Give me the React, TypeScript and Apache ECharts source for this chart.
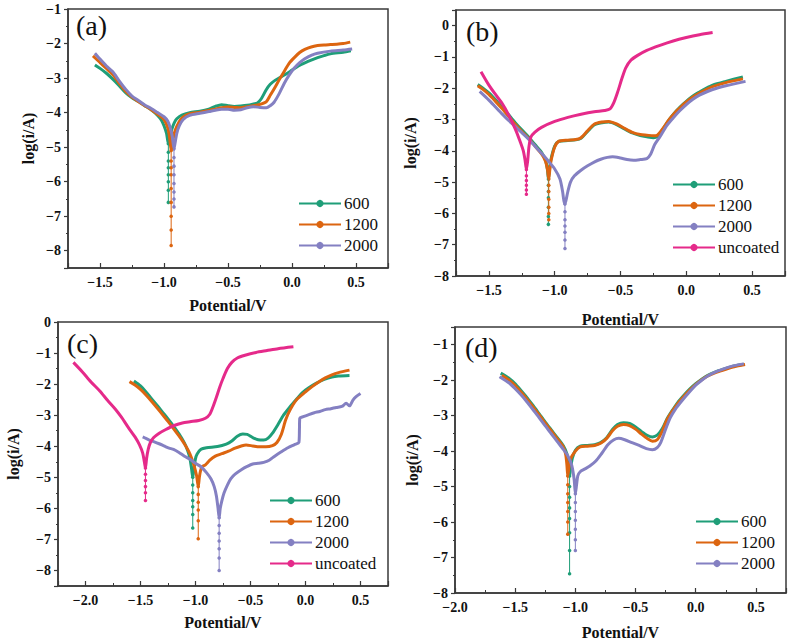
import { useEffect, useRef } from "react";
import * as echarts from "echarts";

type Pt = [number, number];

// ---------- (a) ----------
const a600: Pt[] = [
  [-1.54, -2.62], [-1.5, -2.72], [-1.45, -2.86], [-1.4, -3.03], [-1.35, -3.22], [-1.3, -3.42],
  [-1.25, -3.57], [-1.2, -3.68], [-1.15, -3.8], [-1.1, -3.92], [-1.05, -4.08], [-1.02, -4.22],
  [-1.0, -4.38], [-0.98, -4.6], [-0.966, -4.9], [-0.955, -4.75], [-0.94, -4.5], [-0.92, -4.3],
  [-0.9, -4.18], [-0.86, -4.07], [-0.8, -4.0], [-0.72, -3.96], [-0.65, -3.9], [-0.6, -3.82],
  [-0.55, -3.77], [-0.5, -3.8], [-0.45, -3.82], [-0.4, -3.81], [-0.35, -3.79], [-0.3, -3.75],
  [-0.27, -3.72], [-0.24, -3.6], [-0.2, -3.33], [-0.17, -3.18], [-0.13, -3.06], [-0.08, -2.95],
  [-0.04, -2.87], [0.0, -2.77], [0.05, -2.65], [0.1, -2.56], [0.15, -2.48], [0.2, -2.41],
  [0.25, -2.35], [0.3, -2.3], [0.4, -2.25], [0.46, -2.21],
];
const a600Dip: Pt[] = [
  [-0.966, -4.9], [-0.966, -5.15], [-0.966, -5.4], [-0.966, -5.6], [-0.966, -5.8],
  [-0.966, -6.0], [-0.966, -6.25], [-0.966, -6.6],
];
const a1200: Pt[] = [
  [-1.555, -2.36], [-1.5, -2.55], [-1.45, -2.72], [-1.4, -2.9], [-1.35, -3.15], [-1.3, -3.38],
  [-1.25, -3.55], [-1.2, -3.68], [-1.15, -3.8], [-1.1, -3.92], [-1.05, -4.05], [-1.0, -4.2],
  [-0.97, -4.45], [-0.955, -4.75], [-0.944, -5.1], [-0.935, -4.9], [-0.92, -4.6], [-0.9, -4.4],
  [-0.87, -4.2], [-0.83, -4.08], [-0.78, -4.02], [-0.72, -3.99], [-0.65, -3.94], [-0.6, -3.9],
  [-0.55, -3.86], [-0.5, -3.84], [-0.45, -3.85], [-0.4, -3.86], [-0.35, -3.83], [-0.3, -3.8],
  [-0.25, -3.76], [-0.2, -3.68], [-0.17, -3.5], [-0.13, -3.25], [-0.1, -3.05], [-0.06, -2.8],
  [-0.02, -2.56], [0.02, -2.4], [0.06, -2.26], [0.1, -2.17], [0.15, -2.1], [0.2, -2.06],
  [0.25, -2.04], [0.3, -2.03], [0.35, -2.02], [0.4, -2.0], [0.455, -1.96],
];
const a1200Dip: Pt[] = [
  [-0.944, -5.1], [-0.944, -5.4], [-0.944, -5.6], [-0.944, -5.8], [-0.944, -6.2],
  [-0.944, -6.6], [-0.944, -7.0], [-0.944, -7.4], [-0.944, -7.85],
];
const a2000: Pt[] = [
  [-1.54, -2.28], [-1.5, -2.45], [-1.45, -2.65], [-1.4, -2.82], [-1.35, -3.08], [-1.3, -3.32],
  [-1.25, -3.52], [-1.2, -3.65], [-1.15, -3.78], [-1.1, -3.88], [-1.05, -4.0], [-1.0, -4.12],
  [-0.97, -4.25], [-0.95, -4.45], [-0.935, -4.7], [-0.922, -5.05], [-0.912, -4.85], [-0.9, -4.6],
  [-0.88, -4.38], [-0.85, -4.2], [-0.8, -4.08], [-0.72, -4.02], [-0.65, -3.97], [-0.6, -3.93],
  [-0.55, -3.9], [-0.5, -3.9], [-0.45, -3.93], [-0.4, -3.92], [-0.35, -3.86], [-0.3, -3.83],
  [-0.25, -3.85], [-0.2, -3.86], [-0.17, -3.8], [-0.14, -3.7], [-0.1, -3.45], [-0.06, -3.15],
  [-0.02, -2.9], [0.02, -2.7], [0.06, -2.55], [0.1, -2.44], [0.15, -2.34], [0.2, -2.28],
  [0.3, -2.22], [0.4, -2.19], [0.47, -2.16],
];
const a2000Dip: Pt[] = [
  [-0.922, -5.05], [-0.922, -5.3], [-0.922, -5.55], [-0.922, -5.8], [-0.922, -6.05],
  [-0.922, -6.3], [-0.922, -6.5], [-0.922, -6.73],
];

// ---------- (b) ----------
const b600: Pt[] = [
  [-1.585, -1.88], [-1.55, -1.98], [-1.5, -2.15], [-1.45, -2.37], [-1.4, -2.6], [-1.35, -2.85],
  [-1.3, -3.1], [-1.25, -3.33], [-1.2, -3.55], [-1.15, -3.8], [-1.1, -4.05], [-1.07, -4.3],
  [-1.055, -4.6], [-1.048, -4.9], [-1.04, -4.6], [-1.03, -4.3], [-1.0, -3.85], [-0.97, -3.7],
  [-0.9, -3.67], [-0.84, -3.65], [-0.8, -3.6], [-0.75, -3.38], [-0.7, -3.17], [-0.64, -3.1],
  [-0.59, -3.08], [-0.53, -3.16], [-0.47, -3.3], [-0.41, -3.43], [-0.35, -3.51], [-0.3, -3.55],
  [-0.25, -3.58], [-0.22, -3.55], [-0.18, -3.32], [-0.13, -3.0], [-0.08, -2.74], [-0.03, -2.53],
  [0.0, -2.42], [0.05, -2.25], [0.1, -2.12], [0.15, -2.0], [0.2, -1.9], [0.3, -1.78],
  [0.43, -1.64],
];
const b600Dip: Pt[] = [
  [-1.048, -4.9], [-1.048, -5.1], [-1.048, -5.3], [-1.048, -5.5], [-1.048, -5.8],
  [-1.048, -6.1], [-1.048, -6.35],
];
const b1200: Pt[] = [
  [-1.585, -1.92], [-1.55, -2.02], [-1.5, -2.2], [-1.45, -2.42], [-1.4, -2.65], [-1.35, -2.9],
  [-1.3, -3.15], [-1.25, -3.38], [-1.2, -3.6], [-1.15, -3.85], [-1.1, -4.1], [-1.07, -4.33],
  [-1.055, -4.6], [-1.045, -4.9], [-1.037, -4.6], [-1.027, -4.3], [-1.0, -3.88], [-0.97, -3.7],
  [-0.9, -3.66], [-0.84, -3.64], [-0.8, -3.58], [-0.75, -3.36], [-0.7, -3.15], [-0.64, -3.08],
  [-0.59, -3.06], [-0.53, -3.14], [-0.47, -3.28], [-0.41, -3.41], [-0.35, -3.48], [-0.3, -3.5],
  [-0.25, -3.52], [-0.22, -3.5], [-0.18, -3.3], [-0.13, -3.0], [-0.08, -2.75], [-0.03, -2.55],
  [0.0, -2.44], [0.05, -2.28], [0.1, -2.15], [0.15, -2.04], [0.2, -1.95], [0.3, -1.82],
  [0.43, -1.7],
];
const b1200Dip: Pt[] = [
  [-1.045, -4.9], [-1.045, -5.1], [-1.045, -5.3], [-1.045, -5.55], [-1.045, -5.8],
  [-1.045, -6.0], [-1.045, -6.2],
];
const b2000: Pt[] = [
  [-1.57, -2.1], [-1.5, -2.38], [-1.45, -2.6], [-1.4, -2.82], [-1.35, -3.03], [-1.3, -3.22],
  [-1.25, -3.42], [-1.2, -3.62], [-1.15, -3.85], [-1.1, -4.08], [-1.05, -4.32], [-1.0, -4.58],
  [-0.96, -4.9], [-0.94, -5.3], [-0.925, -5.7], [-0.915, -5.6], [-0.9, -5.3], [-0.88, -5.0],
  [-0.85, -4.8], [-0.8, -4.62], [-0.75, -4.48], [-0.7, -4.36], [-0.65, -4.27], [-0.6, -4.21],
  [-0.56, -4.19], [-0.5, -4.23], [-0.45, -4.28], [-0.4, -4.3], [-0.35, -4.28], [-0.3, -4.25],
  [-0.27, -4.1], [-0.24, -3.8], [-0.2, -3.55], [-0.15, -3.2], [-0.1, -2.95], [-0.05, -2.72],
  [0.0, -2.52], [0.05, -2.35], [0.1, -2.22], [0.2, -2.04], [0.3, -1.92], [0.45, -1.78],
];
const b2000Dip: Pt[] = [
  [-0.922, -5.7], [-0.922, -5.95], [-0.922, -6.2], [-0.922, -6.4], [-0.922, -6.6],
  [-0.922, -6.85], [-0.922, -7.12],
];
const bBare: Pt[] = [
  [-1.56, -1.47], [-1.5, -1.9], [-1.45, -2.2], [-1.4, -2.48], [-1.35, -2.85], [-1.3, -3.3],
  [-1.27, -3.62], [-1.24, -3.98], [-1.225, -4.3], [-1.215, -4.6], [-1.205, -4.3], [-1.195, -3.85],
  [-1.18, -3.55], [-1.15, -3.4], [-1.1, -3.25], [-1.0, -3.06], [-0.9, -2.93], [-0.8, -2.83],
  [-0.7, -2.75], [-0.62, -2.71], [-0.58, -2.66], [-0.55, -2.45], [-0.52, -2.1], [-0.49, -1.7],
  [-0.46, -1.35], [-0.42, -1.1], [-0.37, -0.95], [-0.3, -0.79], [-0.2, -0.63], [-0.1, -0.49],
  [0.0, -0.38], [0.1, -0.29], [0.2, -0.22],
];
const bBareDip: Pt[] = [
  [-1.215, -4.6], [-1.215, -4.8], [-1.215, -4.95], [-1.215, -5.1], [-1.215, -5.25],
  [-1.215, -5.39],
];

// ---------- (c) ----------
const c600: Pt[] = [
  [-1.56, -1.9], [-1.5, -2.06], [-1.45, -2.25], [-1.4, -2.47], [-1.35, -2.68], [-1.3, -2.9],
  [-1.25, -3.12], [-1.2, -3.35], [-1.15, -3.6], [-1.1, -3.9], [-1.07, -4.15], [-1.05, -4.4],
  [-1.035, -4.75], [-1.025, -5.0], [-1.015, -4.75], [-1.0, -4.4], [-0.985, -4.25], [-0.95, -4.1],
  [-0.9, -4.05], [-0.8, -4.01], [-0.72, -3.93], [-0.67, -3.83], [-0.62, -3.68], [-0.57, -3.61],
  [-0.53, -3.62], [-0.48, -3.72], [-0.43, -3.79], [-0.38, -3.8], [-0.34, -3.74], [-0.3, -3.58],
  [-0.25, -3.3], [-0.2, -3.0], [-0.14, -2.73], [-0.08, -2.48], [-0.03, -2.28], [0.03, -2.12],
  [0.1, -1.97], [0.17, -1.85], [0.24, -1.77], [0.3, -1.74], [0.4, -1.72],
];
const c600Dip: Pt[] = [
  [-1.025, -5.0], [-1.025, -5.25], [-1.025, -5.5], [-1.025, -5.75], [-1.025, -5.95],
  [-1.025, -6.2], [-1.025, -6.63],
];
const c1200: Pt[] = [
  [-1.6, -1.92], [-1.55, -2.03], [-1.5, -2.17], [-1.45, -2.35], [-1.4, -2.55], [-1.35, -2.76],
  [-1.3, -2.98], [-1.25, -3.2], [-1.2, -3.43], [-1.15, -3.67], [-1.1, -3.93], [-1.05, -4.25],
  [-1.015, -4.6], [-0.99, -4.95], [-0.975, -5.3], [-0.965, -5.0], [-0.955, -4.8], [-0.94, -4.66],
  [-0.91, -4.6], [-0.87, -4.45], [-0.82, -4.32], [-0.76, -4.24], [-0.7, -4.16], [-0.64, -4.06],
  [-0.59, -4.0], [-0.54, -3.96], [-0.48, -3.99], [-0.42, -4.02], [-0.36, -4.02], [-0.3, -3.98],
  [-0.26, -3.88], [-0.22, -3.62], [-0.18, -3.15], [-0.14, -2.83], [-0.08, -2.5], [0.0, -2.25],
  [0.06, -2.08], [0.12, -1.93], [0.18, -1.8], [0.24, -1.7], [0.3, -1.63], [0.4, -1.55],
];
const c1200Dip: Pt[] = [
  [-0.975, -5.3], [-0.975, -5.55], [-0.975, -5.8], [-0.975, -6.05], [-0.975, -6.4],
  [-0.975, -6.98],
];
const c2000: Pt[] = [
  [-1.48, -3.7], [-1.45, -3.75], [-1.42, -3.8], [-1.38, -3.85], [-1.33, -3.92], [-1.28, -4.0],
  [-1.24, -4.06], [-1.2, -4.1], [-1.15, -4.2], [-1.1, -4.32], [-1.05, -4.42], [-1.0, -4.55],
  [-0.95, -4.66], [-0.9, -4.85], [-0.86, -5.05], [-0.83, -5.3], [-0.81, -5.6], [-0.795, -6.0],
  [-0.785, -6.3], [-0.775, -6.0], [-0.76, -5.75], [-0.74, -5.5], [-0.71, -5.25], [-0.68, -5.05],
  [-0.64, -4.9], [-0.58, -4.75], [-0.53, -4.65], [-0.48, -4.57], [-0.43, -4.55], [-0.38, -4.52],
  [-0.33, -4.45], [-0.28, -4.32], [-0.22, -4.18], [-0.16, -4.05], [-0.1, -3.95], [-0.06, -3.88],
  [-0.055, -3.45], [-0.052, -3.1], [-0.02, -3.05], [0.03, -2.98], [0.08, -2.92], [0.13, -2.88],
  [0.18, -2.82], [0.23, -2.79], [0.28, -2.75], [0.33, -2.72], [0.37, -2.62], [0.4, -2.7],
  [0.43, -2.52], [0.46, -2.4], [0.5, -2.3],
];
const c2000Dip: Pt[] = [
  [-0.785, -6.3], [-0.785, -6.55], [-0.785, -6.8], [-0.785, -7.05], [-0.785, -7.3],
  [-0.785, -7.6], [-0.785, -8.0],
];
const cBare: Pt[] = [
  [-2.11, -1.3], [-2.03, -1.6], [-1.95, -1.93], [-1.87, -2.22], [-1.8, -2.52], [-1.73, -2.8],
  [-1.67, -3.08], [-1.61, -3.4], [-1.55, -3.7], [-1.51, -3.95], [-1.48, -4.22], [-1.465, -4.5],
  [-1.455, -4.7], [-1.445, -4.4], [-1.43, -4.1], [-1.41, -3.88], [-1.38, -3.72], [-1.33, -3.58],
  [-1.27, -3.46], [-1.2, -3.34], [-1.12, -3.25], [-1.05, -3.21], [-0.97, -3.17], [-0.91, -3.1],
  [-0.87, -2.97], [-0.84, -2.72], [-0.81, -2.42], [-0.78, -2.1], [-0.75, -1.82], [-0.71, -1.5],
  [-0.67, -1.3], [-0.62, -1.16], [-0.55, -1.07], [-0.45, -0.98], [-0.35, -0.92], [-0.25, -0.86],
  [-0.11, -0.8],
];
const cBareDip: Pt[] = [
  [-1.455, -4.7], [-1.455, -4.9], [-1.455, -5.1], [-1.455, -5.3], [-1.455, -5.5],
  [-1.455, -5.75],
];

// ---------- (d) ----------
const d600: Pt[] = [
  [-1.62, -1.8], [-1.55, -1.95], [-1.5, -2.1], [-1.45, -2.3], [-1.4, -2.5], [-1.35, -2.72],
  [-1.3, -2.95], [-1.25, -3.18], [-1.2, -3.4], [-1.15, -3.62], [-1.1, -3.85], [-1.07, -4.08],
  [-1.055, -4.4], [-1.048, -4.7], [-1.04, -4.5], [-1.025, -4.2], [-1.0, -3.98], [-0.96, -3.86],
  [-0.9, -3.84], [-0.84, -3.82], [-0.79, -3.76], [-0.74, -3.62], [-0.69, -3.38], [-0.65, -3.25],
  [-0.6, -3.2], [-0.55, -3.22], [-0.5, -3.32], [-0.45, -3.45], [-0.4, -3.56], [-0.36, -3.6],
  [-0.32, -3.55], [-0.28, -3.38], [-0.24, -3.1], [-0.2, -2.88], [-0.15, -2.63], [-0.1, -2.43],
  [-0.05, -2.25], [0.0, -2.1], [0.05, -1.97], [0.1, -1.86], [0.17, -1.76], [0.25, -1.67],
  [0.32, -1.6], [0.4, -1.55],
];
const d600Dip: Pt[] = [
  [-1.048, -4.7], [-1.048, -5.0], [-1.048, -5.3], [-1.048, -5.6], [-1.048, -5.9],
  [-1.048, -6.3], [-1.048, -6.8], [-1.048, -7.46],
];
const d1200: Pt[] = [
  [-1.61, -1.86], [-1.55, -2.0], [-1.5, -2.15], [-1.45, -2.34], [-1.4, -2.54], [-1.35, -2.76],
  [-1.3, -2.98], [-1.25, -3.21], [-1.2, -3.43], [-1.15, -3.65], [-1.1, -3.88], [-1.08, -4.1],
  [-1.07, -4.4], [-1.063, -4.7], [-1.055, -4.5], [-1.04, -4.22], [-1.0, -4.0], [-0.96, -3.88],
  [-0.9, -3.86], [-0.84, -3.84], [-0.79, -3.78], [-0.74, -3.64], [-0.69, -3.42], [-0.65, -3.3],
  [-0.6, -3.25], [-0.55, -3.28], [-0.5, -3.38], [-0.45, -3.52], [-0.4, -3.65], [-0.36, -3.72],
  [-0.32, -3.68], [-0.28, -3.45], [-0.24, -3.12], [-0.2, -2.9], [-0.15, -2.66], [-0.1, -2.46],
  [-0.05, -2.28], [0.0, -2.12], [0.05, -1.99], [0.1, -1.88], [0.17, -1.78], [0.25, -1.69],
  [0.32, -1.62], [0.41, -1.56],
];
const d1200Dip: Pt[] = [
  [-1.063, -4.7], [-1.063, -4.95], [-1.063, -5.2], [-1.063, -5.45], [-1.063, -5.7],
  [-1.063, -6.0], [-1.063, -6.34],
];
const d2000: Pt[] = [
  [-1.63, -1.9], [-1.55, -2.08], [-1.5, -2.24], [-1.45, -2.42], [-1.4, -2.62], [-1.35, -2.84],
  [-1.3, -3.06], [-1.25, -3.29], [-1.2, -3.51], [-1.15, -3.73], [-1.1, -3.95], [-1.06, -4.15],
  [-1.03, -4.4], [-1.01, -4.8], [-1.0, -5.2], [-0.99, -4.95], [-0.98, -4.7], [-0.96, -4.58],
  [-0.92, -4.5], [-0.88, -4.42], [-0.83, -4.28], [-0.78, -4.06], [-0.73, -3.82], [-0.68, -3.68],
  [-0.64, -3.64], [-0.59, -3.68], [-0.53, -3.76], [-0.47, -3.84], [-0.41, -3.93], [-0.36, -3.96],
  [-0.32, -3.9], [-0.29, -3.75], [-0.25, -3.38], [-0.21, -3.05], [-0.17, -2.82], [-0.12, -2.6],
  [-0.06, -2.36], [0.0, -2.14], [0.05, -2.0], [0.1, -1.88], [0.17, -1.76], [0.25, -1.66],
  [0.32, -1.59], [0.4, -1.54],
];
const d2000Dip: Pt[] = [
  [-1.0, -5.2], [-1.0, -5.45], [-1.0, -5.7], [-1.0, -5.95], [-1.0, -6.2],
  [-1.0, -6.5], [-1.0, -6.8],
];

const COLORS: Record<string, string> = {
  "600": "#1f9e78",
  "1200": "#dc6510",
  "2000": "#8480c2",
  uncoated: "#e52a8a",
};

const SERIF = "Liberation Serif";

type Panel = {
  tag: string;
  grid: { left: number; top: number; width: number; height: number };
  x: [number, number];
  y: [number, number];
  xSplit: number;
  ySplit: number;
  yNameGap: number;
  xNameGap: number;
  tagPos: [number, number];
  legendPos: [number, number];
  curves: { name: string; main: Pt[]; dip: Pt[] }[];
};

const panels: Panel[] = [
  {
    tag: "(a)",
    grid: { left: 68, top: 9, width: 320, height: 259 },
    x: [-1.75, 0.75],
    y: [-8.5, -1],
    xSplit: 5,
    ySplit: 8,
    yNameGap: 32,
    xNameGap: 29,
    tagPos: [76, 27],
    legendPos: [298, 195],
    curves: [
      { name: "600", main: a600, dip: a600Dip },
      { name: "1200", main: a1200, dip: a1200Dip },
      { name: "2000", main: a2000, dip: a2000Dip },
    ],
  },
  {
    tag: "(b)",
    grid: { left: 456, top: 10, width: 329, height: 266 },
    x: [-1.75, 0.75],
    y: [-8, 0.5],
    xSplit: 5,
    ySplit: 8,
    yNameGap: 38,
    xNameGap: 35,
    tagPos: [466, 33],
    legendPos: [672, 176],
    curves: [
      { name: "600", main: b600, dip: b600Dip },
      { name: "1200", main: b1200, dip: b1200Dip },
      { name: "2000", main: b2000, dip: b2000Dip },
      { name: "uncoated", main: bBare, dip: bBareDip },
    ],
  },
  {
    tag: "(c)",
    grid: { left: 58, top: 322, width: 330, height: 264 },
    x: [-2.25, 0.75],
    y: [-8.5, 0],
    xSplit: 6,
    ySplit: 8,
    yNameGap: 37,
    xNameGap: 28,
    tagPos: [67, 345],
    legendPos: [269, 492],
    curves: [
      { name: "600", main: c600, dip: c600Dip },
      { name: "1200", main: c1200, dip: c1200Dip },
      { name: "2000", main: c2000, dip: c2000Dip },
      { name: "uncoated", main: cBare, dip: cBareDip },
    ],
  },
  {
    tag: "(d)",
    grid: { left: 455, top: 327, width: 331, height: 266 },
    x: [-2, 0.75],
    y: [-8, -0.5],
    xSplit: 5,
    ySplit: 8,
    yNameGap: 35,
    xNameGap: 31,
    tagPos: [465, 349],
    legendPos: [695, 513],
    curves: [
      { name: "600", main: d600, dip: d600Dip },
      { name: "1200", main: d1200, dip: d1200Dip },
      { name: "2000", main: d2000, dip: d2000Dip },
    ],
  },
];

const AXIS_COLOR = "#3a3a3a";

// Labels only on whole multiples of the major step, with a typographic minus.
const stepLabel = (step: number, digits: number) => (v: number) => {
  const k = v / step;
  if (Math.abs(k - Math.round(k)) > 1e-6) return "";
  const r = Math.round(k) * step;
  const s = Math.abs(r).toFixed(digits);
  return r < -1e-9 ? "\u2212" + s : s;
};

function buildOption(): echarts.EChartsOption {
  const grid: any[] = [];
  const xAxis: any[] = [];
  const yAxis: any[] = [];
  const legend: any[] = [];
  const series: any[] = [];
  const graphic: any[] = [];

  panels.forEach((p, i) => {
    grid.push({
      ...p.grid,
      show: true,
      borderColor: AXIS_COLOR,
      borderWidth: 1.5,
      backgroundColor: "transparent",
      containLabel: false,
    });
    xAxis.push({
      type: "value",
      gridIndex: i,
      min: p.x[0],
      max: p.x[1],
      splitNumber: p.xSplit,
      name: "Potential/V",
      nameLocation: "middle",
      nameGap: p.xNameGap,
      nameTextStyle: { fontFamily: SERIF, fontWeight: "bold", fontSize: 16, color: "#111" },
      axisLine: { show: true, onZero: false, lineStyle: { color: AXIS_COLOR, width: 1.5 } },
      axisTick: { show: true, inside: true, length: 5, lineStyle: { color: AXIS_COLOR, width: 1.2 } },
      minorTick: { show: true, splitNumber: 2, length: 3, lineStyle: { color: AXIS_COLOR, width: 1 } },
      splitLine: { show: false },
      axisLabel: {
        formatter: stepLabel(0.5, 1),
        fontFamily: SERIF,
        fontWeight: "bold",
        fontSize: 14,
        color: "#111",
        margin: 7,
        showMinLabel: true,
        showMaxLabel: true,
      },
    });
    yAxis.push({
      type: "value",
      gridIndex: i,
      min: p.y[0],
      max: p.y[1],
      splitNumber: p.ySplit,
      name: "log(i/A)",
      nameLocation: "middle",
      nameGap: p.yNameGap,
      nameRotate: 90,
      nameTextStyle: { fontFamily: SERIF, fontWeight: "bold", fontSize: 16, color: "#111" },
      axisLine: { show: true, onZero: false, lineStyle: { color: AXIS_COLOR, width: 1.5 } },
      axisTick: { show: true, inside: false, length: 4, lineStyle: { color: AXIS_COLOR, width: 1.2 } },
      minorTick: { show: true, splitNumber: 2, length: 2, lineStyle: { color: AXIS_COLOR, width: 1 } },
      splitLine: { show: false },
      axisLabel: {
        formatter: stepLabel(1, 0),
        fontFamily: SERIF,
        fontWeight: "bold",
        fontSize: 14,
        color: "#111",
        margin: 7,
      },
    });

    legend.push({
      orient: "vertical",
      left: p.legendPos[0],
      top: p.legendPos[1],
      itemWidth: 42,
      itemHeight: 9,
      itemGap: 4,
      padding: 0,
      data: p.curves.map((c) => c.name),
      textStyle: { fontFamily: SERIF, fontSize: 17, color: "#111", padding: [0, 0, 0, -2] },
    });

    p.curves.forEach((c) => {
      const color = COLORS[c.name];
      series.push({
        type: "line",
        name: c.name,
        xAxisIndex: i,
        yAxisIndex: i,
        data: c.main,
        color,
        symbol: "circle",
        showSymbol: false,
        smooth: 0.25,
        lineStyle: { width: 3, color },
        emphasis: { disabled: true },
        z: 3,
      });
      series.push({
        type: "line",
        name: c.name,
        xAxisIndex: i,
        yAxisIndex: i,
        data: c.dip,
        color,
        symbol: "circle",
        symbolSize: 3.5,
        showSymbol: true,
        lineStyle: { width: 1, color },
        itemStyle: { color },
        emphasis: { disabled: true },
        z: 2,
      });
    });

    graphic.push({
      type: "text",
      left: p.tagPos[0],
      top: p.tagPos[1] - 16,
      style: { text: p.tag, font: `28px ${SERIF}`, fill: "#111" },
    });
  });

  return {
    animation: false,
    backgroundColor: "#ffffff",
    grid,
    xAxis,
    yAxis,
    legend,
    series,
    graphic,
  };
}

export default function App() {
  const ref = useRef<HTMLDivElement>(null);
  useEffect(() => {
    if (!ref.current) return;
    const chart = echarts.init(ref.current, undefined, { renderer: "svg" });
    chart.setOption(buildOption());
    return () => chart.dispose();
  }, []);
  return (
    <div
      ref={ref}
      style={{ position: "absolute", left: 0, top: 0, width: 794, height: 644, background: "#fff" }}
    />
  );
}
